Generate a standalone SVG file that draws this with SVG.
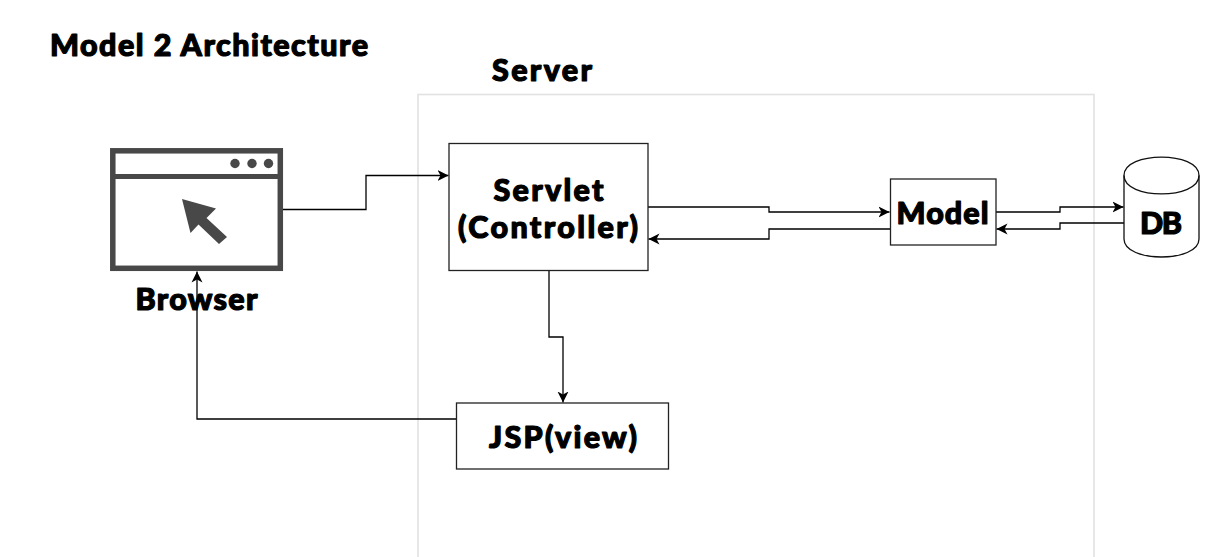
<svg xmlns="http://www.w3.org/2000/svg" width="1231" height="557" viewBox="0 0 1231 557">
<style>
.box{fill:#fff;stroke:#222;stroke-width:1.300}
.t{font-family:"Lato","Liberation Sans",sans-serif;font-weight:900;font-size:30.500px;fill:#000;stroke:#000;stroke-width:1.200;stroke-linejoin:round;text-anchor:middle;paint-order:stroke}
.c{fill:none;stroke:#000;stroke-width:1.300;marker-end:url(#a)}
.ic{fill:#484849}
</style>
<defs><marker id="a" markerUnits="userSpaceOnUse" markerWidth="13" markerHeight="12" refX="11" refY="6" orient="auto"><path d="M0 0.500L11 6L0 11.500L3 6Z" fill="#000"/></marker></defs>
<rect width="1231" height="557" fill="#fff"/>
<g id="title"><text class="t" x="209" y="55.500" textLength="318" lengthAdjust="spacing">Model 2 Architecture</text></g>
<g id="server"><rect x="418" y="94.500" width="676" height="480" fill="none" stroke="#e2e2e2" stroke-width="1.600"/><text class="t" x="542" y="81" textLength="100" lengthAdjust="spacing">Server</text></g>
<g id="connectors">
<path class="c" d="M283 209.500H366V175.500H448.500"/>
<path class="c" d="M648 207H769V212H889.500"/>
<path class="c" d="M890 229H769V239H648.500"/>
<path class="c" d="M996 212H1060V207H1123.500"/>
<path class="c" d="M1124 223H1060V229H996.500"/>
<path class="c" d="M549 271V337H563V402.500"/>
<path class="c" d="M456 419H197V271.500"/>
</g>
<g id="browser">
<rect x="112.800" y="150.800" width="167.500" height="117.500" fill="none" stroke="#484849" stroke-width="5.500"/>
<rect x="112" y="174" width="169" height="5" class="ic"/>
<circle class="ic" cx="235" cy="163.500" r="4.700"/><circle class="ic" cx="252" cy="163.500" r="4.700"/><circle class="ic" cx="268.500" cy="163.500" r="4.700"/>
<path class="ic" d="M182 199L216 208.500L206.500 218L227 237L219 244L198.500 224.500L190.500 233Z"/>
<text class="t" x="196.500" y="309.500" textLength="122" lengthAdjust="spacing">Browser</text>
</g>
<g id="servlet"><rect class="box" x="449" y="143.500" width="199" height="127"/>
<text class="t" x="548.500" y="200.500" textLength="110" lengthAdjust="spacing">Servlet</text>
<text class="t" x="548" y="238" textLength="180" lengthAdjust="spacing">(Controller)</text></g>
<g id="model"><rect class="box" x="890.500" y="179" width="105.500" height="66"/>
<text class="t" x="942.500" y="223.500" textLength="92" lengthAdjust="spacing">Model</text></g>
<g id="db"><path d="M1124 175.500C1124 151 1199 151 1199 175.500V239C1199 263 1124 263 1124 239Z" fill="#fff" stroke="#111" stroke-width="1.300"/>
<path d="M1124 175.500C1124 200 1199 200 1199 175.500" fill="none" stroke="#111" stroke-width="1.300"/>
<text class="t" x="1161" y="233.500" textLength="42" lengthAdjust="spacing">DB</text></g>
<g id="jsp"><rect class="box" x="456.500" y="403" width="212" height="66"/>
<text class="t" x="563" y="447.500" textLength="148" lengthAdjust="spacing">JSP(view)</text></g>
</svg>
